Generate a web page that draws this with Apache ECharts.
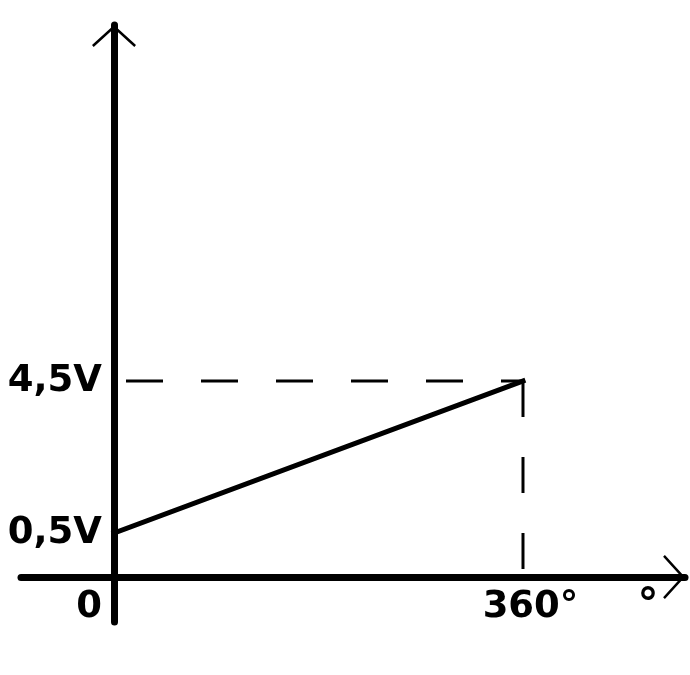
<!DOCTYPE html>
<html>
<head>
<meta charset="utf-8">
<script src="https://cdn.jsdelivr.net/npm/echarts@6/dist/echarts.min.js"></script>
<style>
  html, body { margin: 0; padding: 0; background: #ffffff; }
  #chart { width: 690px; height: 675px; }
</style>
</head>
<body>
<div id="chart"></div>
<script>
// ---- data ----
const angles = [0, 360];          // degrees
const voltages = [0.5, 4.5];      // volts
const xTicks = [0, 360];
const xTickLabels = ['0', '360°'];
const yTicks = [0.5, 4.5];
const yTickLabels = ['0,5V', '4,5V'];
const xUnit = '°';

const FONT = 'DejaVu Sans';
const arrowPath = 'path://M22,0L44,20L42.3,21.8L22,3.4L1.7,21.8L0,20Z';

const chart = echarts.init(document.getElementById('chart'), null, { renderer: 'canvas' });

const lineData = angles.map((a, i) => [a, voltages[i]]);
const topV = voltages[voltages.length - 1];
const endA = angles[angles.length - 1];

const option = {
  animation: false,
  backgroundColor: '#ffffff',
  grid: { left: 21, right: 5, top: 25, bottom: 53, containLabel: false, outerBoundsMode: 'none' },
  xAxis: {
    type: 'value',
    min: -81.86,
    max: 502.6,
    splitLine: { show: false },
    axisTick: { show: false },
    axisLine: {
      show: true,
      onZero: true,
      onZeroAxisIndex: 1,
      lineStyle: { color: '#000', width: 7 },
      symbol: ['none', arrowPath],
      symbolSize: [44, 22],
      symbolOffset: [0, -11]
    },
    name: xUnit,
    nameLocation: 'end',
    nameGap: -37,
    nameTextStyle: {
      fontFamily: FONT, fontWeight: 'bold', fontSize: 42, color: '#000',
      align: 'center', verticalAlign: 'top', lineHeight: 60
    },
    axisLabel: {
      customValues: xTicks,
      margin: -33,
      color: '#000',
      fontFamily: FONT,
      fontWeight: 'bold',
      fontSize: 37,
      formatter: function (v) {
        const i = xTicks.indexOf(v);
        return i === 0 ? '{o|' + xTickLabels[i] + '}' : '{e|' + xTickLabels[i] + '}';
      },
      rich: {
        o: { fontFamily: FONT, fontWeight: 'bold', fontSize: 37, color: '#000', padding: [0, 50, 0, 0] },
        e: { fontFamily: FONT, fontWeight: 'bold', fontSize: 37, color: '#000', padding: [0, 0, 0, 15] }
      }
    }
  },
  yAxis: [
    {
      type: 'value',
      min: -1.842,
      max: 13.868,
      splitLine: { show: false },
      axisTick: { show: false },
      axisLine: {
        show: true,
        onZero: true,
        lineStyle: { color: '#000', width: 7 },
        symbol: ['none', arrowPath],
        symbolSize: [44, 22],
        symbolOffset: [0, -11]
      },
      axisLabel: {
        customValues: yTicks,
        margin: -81,
        color: '#000',
        fontFamily: FONT,
        fontWeight: 'bold',
        fontSize: 37,
        formatter: function (v) { return yTickLabels[yTicks.indexOf(v)]; }
      }
    },
    {
      type: 'value',
      min: -45,
      max: 552,
      show: false,
      splitLine: { show: false },
      axisLine: { show: false },
      axisTick: { show: false },
      axisLabel: { show: false }
    }
  ],
  series: [
    {
      type: 'line',
      yAxisIndex: 0,
      data: lineData,
      symbol: 'none',
      z: 5,
      lineStyle: { color: '#000', width: 5, cap: 'square' }
    }
  ]
};

chart.setOption(option);

// value on the voltage axis where the horizontal axis line sits
const axisPx = chart.convertToPixel({ yAxisIndex: 1 }, 0);
const baseV = chart.convertFromPixel({ yAxisIndex: 0 }, axisPx);

chart.setOption({
  series: [
    option.series[0],
    {
      type: 'line',
      yAxisIndex: 0,
      data: [[angles[0], topV], [endA, topV]],
      symbol: 'none',
      z: 3,
      lineStyle: { color: '#000', width: 3, type: [37, 38], dashOffset: 63 }
    },
    {
      type: 'line',
      yAxisIndex: 0,
      data: [[endA, topV], [endA, baseV]],
      symbol: 'none',
      z: 3,
      lineStyle: { color: '#000', width: 3, type: [36, 40] }
    }
  ]
});
</script>
</body>
</html>
